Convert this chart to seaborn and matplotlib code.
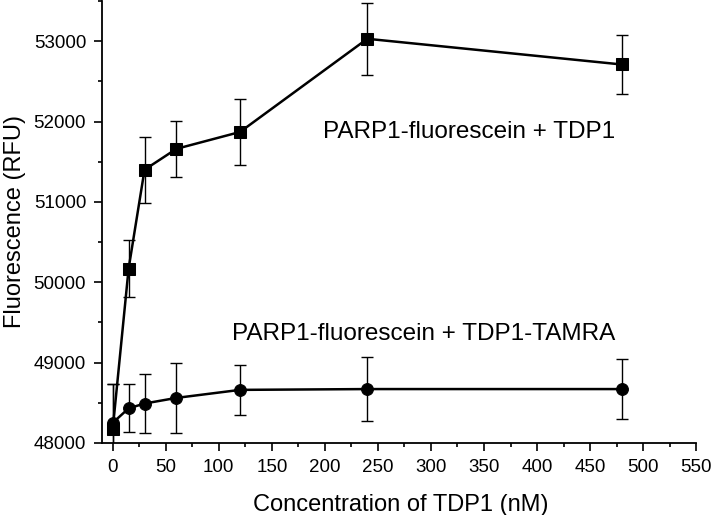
import numpy as np
import pandas as pd
import seaborn as sns
from matplotlib import pyplot as plt
from matplotlib.ticker import MultipleLocator

# concentration of TDP1 (nM)
conc = [0, 15, 30, 60, 120, 240, 480]

# PARP1-fluorescein + TDP1 (squares)
tdp1_mean = [48170, 50170, 51400, 51660, 51870, 53030, 52710]
tdp1_err = [560, 360, 410, 350, 410, 450, 370]

# PARP1-fluorescein + TDP1-TAMRA (circles)
tamra_mean = [48250, 48430, 48490, 48560, 48660, 48670, 48670]
tamra_err = [480, 300, 370, 440, 310, 400, 370]

sns.set_style("ticks")
plt.rcParams['font.family'] = ['Liberation Sans', 'DejaVu Sans']
plt.rcParams['text.color'] = 'black'
plt.rcParams['axes.labelcolor'] = 'black'
plt.rcParams['xtick.color'] = 'black'
plt.rcParams['ytick.color'] = 'black'
plt.rcParams['axes.edgecolor'] = 'black'

df = pd.DataFrame({
    'conc': conc * 2,
    'rfu': tdp1_mean + tamra_mean,
    'series': ['TDP1'] * len(conc) + ['TAMRA'] * len(conc),
})

fig, ax = plt.subplots(figsize=(7.14, 5.15), dpi=100)
fig.subplots_adjust(left=0.143, right=0.975, bottom=0.14, top=0.998)

sns.lineplot(data=df, x='conc', y='rfu', style='series', markers={'TDP1': 's', 'TAMRA': 'o'},
             dashes=False, color='black', linewidth=1.8, markersize=8.5,
             markeredgecolor='black', legend=False, ax=ax, clip_on=False, zorder=3)

ax.errorbar(conc, tdp1_mean, yerr=tdp1_err, fmt='none', ecolor='black',
            elinewidth=1.0, capsize=4, capthick=1.0)
ax.errorbar(conc, tamra_mean, yerr=tamra_err, fmt='none', ecolor='black',
            elinewidth=1.0, capsize=4, capthick=1.0)

ax.text(198, 51800, 'PARP1-fluorescein + TDP1', fontsize=17.5, va='baseline', ha='left')
ax.text(112, 49280, 'PARP1-fluorescein + TDP1-TAMRA', fontsize=17.5, va='baseline', ha='left')

ax.set_xlim(-10, 550)
ax.set_ylim(48000, 53500)
ax.xaxis.set_major_locator(MultipleLocator(50))
ax.xaxis.set_minor_locator(MultipleLocator(25))
ax.yaxis.set_major_locator(MultipleLocator(1000))
ax.yaxis.set_minor_locator(MultipleLocator(500))
ax.tick_params(which='major', length=6, width=1.2, labelsize=13.5, direction='out', pad=5.5)
ax.tick_params(which='minor', length=3, width=1.2, direction='out')

for side in ['top', 'right']:
    ax.spines[side].set_visible(False)
for side in ['left', 'bottom']:
    ax.spines[side].set_linewidth(1.3)

ax.set_xlabel('Concentration of TDP1 (nM)', fontsize=17)
ax.set_ylabel('Fluorescence (RFU)', fontsize=17)
ax.xaxis.label.set_va('baseline')
ax.yaxis.label.set_va('baseline')
ax.xaxis.set_label_coords(0.502, -0.153)
ax.yaxis.set_label_coords(-0.137, 0.5)

fig.savefig('out.png', dpi=100)
